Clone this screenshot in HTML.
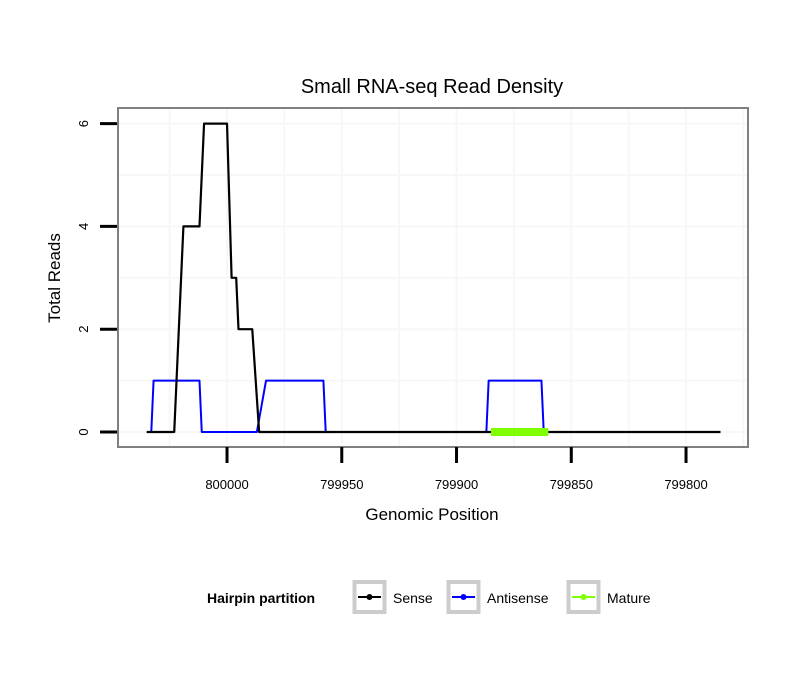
<!DOCTYPE html>
<html><head><meta charset="utf-8"><style>
body{margin:0;background:#fff;}
svg text{font-family:"Liberation Sans","DejaVu Sans",sans-serif;}
</style></head><body>
<svg id="chart" width="810" height="690" xmlns="http://www.w3.org/2000/svg">
<rect width="810" height="690" fill="#fff"/>
<text x="432" y="93" font-size="20" text-anchor="middle">Small RNA-seq Read Density</text>
<g id="grid"></g>
<g id="series"></g>
<rect x="118" y="108" width="630" height="339" fill="none" stroke="#808080" stroke-width="2"/>
<g id="axes"></g>
<text x="432" y="520" font-size="17" text-anchor="middle">Genomic Position</text>
<text transform="translate(60,278) rotate(-90)" font-size="17" text-anchor="middle">Total Reads</text>
<g>
<text x="207" y="603" font-size="14" font-weight="bold">Hairpin partition</text>
<g>
<rect x="354.5" y="582" width="30" height="30" fill="#fff" stroke="#ccc" stroke-width="4"/>
<line x1="358" y1="597" x2="381" y2="597" stroke="#000" stroke-width="2"/><circle cx="369.5" cy="597" r="3" fill="#000"/>
<text x="393" y="603" font-size="14">Sense</text></g>
<g>
<rect x="448.5" y="582" width="30" height="30" fill="#fff" stroke="#ccc" stroke-width="4"/>
<line x1="452" y1="597" x2="475" y2="597" stroke="#00f" stroke-width="2"/><circle cx="463.5" cy="597" r="3" fill="#00f"/>
<text x="487" y="603" font-size="14">Antisense</text></g>
<g>
<rect x="568.5" y="582" width="30" height="30" fill="#fff" stroke="#ccc" stroke-width="4"/>
<line x1="572" y1="597" x2="595" y2="597" stroke="#7fff00" stroke-width="2"/><circle cx="583.5" cy="597" r="3" fill="#7fff00"/>
<text x="607" y="603" font-size="14">Mature</text></g>
</g>
</svg>
<script>
const senseX=[800035,800023,800019,800012,800010,800000,799998,799996,799995,799989,799986,799785];
const senseY=[0,0,4,4,6,6,3,3,2,2,0,0];
const antiX=[800033,800032,800012,800011,799987,799983,799958,799957,799887,799886,799863,799862,799785];
const antiY=[0,1,1,0,0,1,1,0,0,1,1,0,0];
const matureX=[799885,799860];
const matureY=[0,0];
const xTicks=[800000,799950,799900,799850,799800];
const yTicks=[0,2,4,6];

const NS="http://www.w3.org/2000/svg";
const X0=118,X1=748,D0=800047.5,D1=799773;
const sx=v=>X0+(v-D0)/(D1-D0)*(X1-X0);
const sy=v=>432-v*51.4;
function mk(tag,attrs,parent){const e=document.createElementNS(NS,tag);for(const k in attrs)e.setAttribute(k,attrs[k]);parent.appendChild(e);return e;}
const grid=document.getElementById('grid'),axes=document.getElementById('axes'),ser=document.getElementById('series');
mk('rect',{x:118,y:108,width:630,height:339,fill:'#fff'},grid);
const xs=[];for(let i=0;i<xTicks.length;i++){xs.push(xTicks[i]);xs.push(xTicks[i]-25);}xs.push(xTicks[0]+25);
xs.forEach(v=>{const g=mk('line',{x1:sx(v),x2:sx(v),y1:108,y2:447,stroke:'#f7f7f7','stroke-width':2},grid);

});
for(let v=0;v<=6;v++){const g=mk('line',{x1:118,x2:748,y1:sy(v),y2:sy(v),stroke:'#f7f7f7','stroke-width':2},grid);

}
xTicks.forEach(v=>{const t=mk('line',{x1:sx(v),x2:sx(v),y1:447,y2:463,stroke:'#000','stroke-width':3},axes);


const l=mk('text',{x:sx(v),y:489,'font-size':13,'text-anchor':'middle'},axes);l.textContent=v;

});
yTicks.forEach(v=>{const t=mk('line',{x1:100,x2:117,y1:sy(v),y2:sy(v),stroke:'#000','stroke-width':3},axes);


const l=mk('text',{transform:`translate(88,${sy(v)}) rotate(-90)`,'font-size':13,'text-anchor':'middle'},axes);l.textContent=v;

});
function line(xa,ya,color,w,name){const p=mk('polyline',{points:xa.map((x,i)=>sx(x)+','+sy(ya[i])).join(' '),fill:'none',stroke:color,'stroke-width':w,'stroke-linejoin':'round'},ser);

}
line(antiX,antiY,'#00f',2,'antisense-line');
line(senseX,senseY,'#000',2.2,'sense-line');
line(matureX,matureY,'#7fff00',8,'mature-line');
</script>
</body></html>
